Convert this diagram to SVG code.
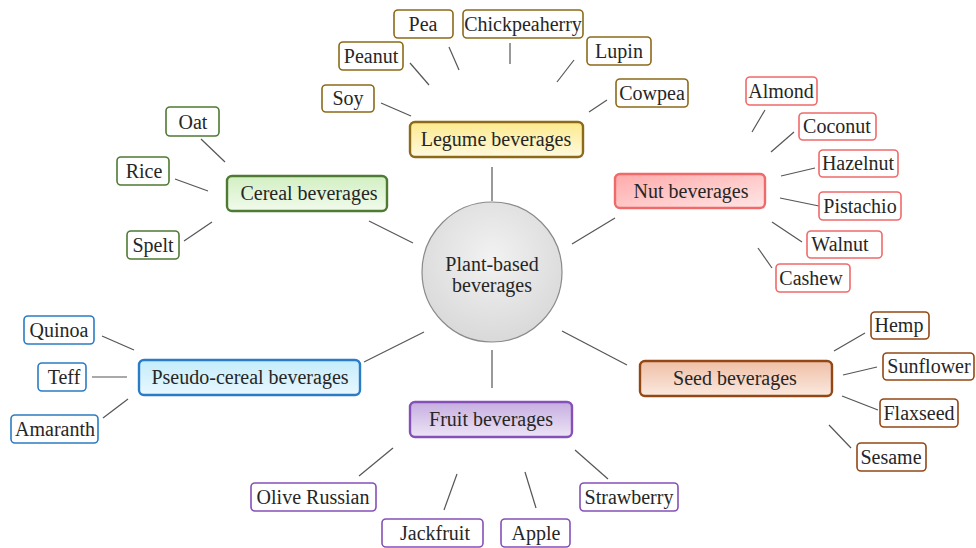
<svg xmlns="http://www.w3.org/2000/svg" width="976" height="548" viewBox="0 0 976 548" font-family="'Liberation Serif', Tinos, 'DejaVu Serif', serif">
<style>
text{font-family:"Liberation Serif",Tinos,"Times New Roman","DejaVu Serif",serif;font-size:20px;fill:#262626;text-anchor:middle}
.c{fill:#fff;stroke-width:1.6}
.cat{stroke-width:2.4}
.leg{stroke:#8c6a18}.nut{stroke:#f06a6a}.cer{stroke:#4f7a33}.pse{stroke:#2a7cc4}.see{stroke:#924815}.fru{stroke:#8550b8}
#connectors line{stroke:#555;stroke-width:1.2}
</style>
<defs>
<linearGradient id="gLeg" x1="0" y1="0" x2="0" y2="1"><stop offset="0" stop-color="#fde98c"/><stop offset="1" stop-color="#fffae0"/></linearGradient>
<linearGradient id="gNut" x1="0" y1="0" x2="1" y2="1"><stop offset="0" stop-color="#ffaaaa"/><stop offset="1" stop-color="#ffe6e6"/></linearGradient>
<linearGradient id="gCer" x1="0" y1="0" x2="0" y2="1"><stop offset="0" stop-color="#d2efc2"/><stop offset="1" stop-color="#f1fbec"/></linearGradient>
<linearGradient id="gPse" x1="0" y1="0" x2="0" y2="1"><stop offset="0" stop-color="#c4ecfb"/><stop offset="1" stop-color="#e9f8ff"/></linearGradient>
<linearGradient id="gSee" x1="0" y1="0" x2="0" y2="1"><stop offset="0" stop-color="#efbfa6"/><stop offset="1" stop-color="#fbe9e0"/></linearGradient>
<linearGradient id="gFru" x1="0" y1="0" x2="0" y2="1"><stop offset="0" stop-color="#c6ade0"/><stop offset="1" stop-color="#ede5f6"/></linearGradient>
<radialGradient id="gCen" cx="0.5" cy="0.4" r="0.6"><stop offset="0" stop-color="#f2f2f2"/><stop offset="1" stop-color="#d9d9d9"/></radialGradient>
</defs>
<g id="connectors">
<line x1="492" y1="167" x2="492" y2="201"/>
<line x1="572" y1="244" x2="615" y2="218"/>
<line x1="369" y1="221" x2="413" y2="243"/>
<line x1="364" y1="362" x2="424" y2="332"/>
<line x1="562" y1="331" x2="627" y2="365"/>
<line x1="492" y1="350" x2="492" y2="388"/>
<line x1="381" y1="103" x2="411" y2="116"/>
<line x1="410" y1="63" x2="429" y2="85"/>
<line x1="449" y1="47" x2="459" y2="70"/>
<line x1="510" y1="43" x2="510" y2="64"/>
<line x1="574" y1="60" x2="557" y2="82"/>
<line x1="607" y1="100" x2="589" y2="112"/>
<line x1="765" y1="110" x2="752" y2="132"/>
<line x1="794" y1="132" x2="771" y2="152"/>
<line x1="815" y1="168" x2="781" y2="176"/>
<line x1="819" y1="206" x2="780" y2="198"/>
<line x1="802" y1="242" x2="772" y2="222"/>
<line x1="772" y1="268" x2="758" y2="248"/>
<line x1="201" y1="139" x2="225" y2="162"/>
<line x1="175" y1="179" x2="208" y2="191"/>
<line x1="184" y1="241" x2="212" y2="222"/>
<line x1="102" y1="336" x2="134" y2="350"/>
<line x1="92" y1="377" x2="127" y2="377"/>
<line x1="103" y1="418" x2="128" y2="399"/>
<line x1="865" y1="333" x2="834" y2="351"/>
<line x1="877" y1="367" x2="843" y2="375"/>
<line x1="878" y1="410" x2="842" y2="396"/>
<line x1="851" y1="448" x2="829" y2="425"/>
<line x1="393" y1="448" x2="359" y2="476"/>
<line x1="457" y1="474" x2="444" y2="510"/>
<line x1="525" y1="472" x2="536" y2="508"/>
<line x1="575" y1="450" x2="608" y2="479"/>
</g>
<g id="center">
<circle cx="492" cy="272" r="70" fill="url(#gCen)" stroke="#8a8a8a" stroke-width="1.2"/>
<text x="492" y="271">Plant-based</text>
<text x="492" y="292">beverages</text>
</g>
<g id="legume"><rect class="cat leg" x="410" y="122" width="173" height="35" rx="5" fill="url(#gLeg)"/><text x="496" y="146">Legume beverages</text></g>
<g id="nut"><rect class="cat nut" x="615" y="174" width="150" height="34" rx="5" fill="url(#gNut)"/><text x="691" y="198">Nut beverages</text></g>
<g id="cereal"><rect class="cat cer" x="227" y="176" width="160" height="35" rx="5" fill="url(#gCer)"/><text x="309" y="200">Cereal beverages</text></g>
<g id="pseudo"><rect class="cat pse" x="139" y="360" width="221" height="35" rx="5" fill="url(#gPse)"/><text x="250" y="384">Pseudo-cereal beverages</text></g>
<g id="seed"><rect class="cat see" x="640" y="361" width="192" height="35" rx="5" fill="url(#gSee)"/><text x="735" y="385">Seed beverages</text></g>
<g id="fruit"><rect class="cat fru" x="410" y="402" width="162" height="35" rx="5" fill="url(#gFru)"/><text x="491" y="426">Fruit beverages</text></g>
<g id="soy"><rect class="c leg" x="322" y="85" width="52" height="27" rx="4"/><text x="348" y="105">Soy</text></g>
<g id="peanut"><rect class="c leg" x="339" y="42" width="64" height="28" rx="4"/><text x="371" y="63">Peanut</text></g>
<g id="pea"><rect class="c leg" x="394" y="10" width="59" height="28" rx="4"/><text x="423" y="31">Pea</text></g>
<g id="chickpeaherry"><rect class="c leg" x="463" y="10" width="120" height="28" rx="4"/><text x="523" y="31">Chickpeaherry</text></g>
<g id="lupin"><rect class="c leg" x="587" y="37" width="64" height="28" rx="4"/><text x="619" y="58">Lupin</text></g>
<g id="cowpea"><rect class="c leg" x="616" y="79" width="72" height="28" rx="4"/><text x="652" y="100">Cowpea</text></g>
<g id="almond"><rect class="c nut" x="746" y="77" width="71" height="28" rx="4"/><text x="781" y="98">Almond</text></g>
<g id="coconut"><rect class="c nut" x="799" y="113" width="77" height="27" rx="4"/><text x="837" y="133">Coconut</text></g>
<g id="hazelnut"><rect class="c nut" x="819" y="150" width="79" height="27" rx="4"/><text x="858" y="170">Hazelnut</text></g>
<g id="pistachio"><rect class="c nut" x="819" y="192" width="82" height="28" rx="4"/><text x="860" y="213">Pistachio</text></g>
<g id="walnut"><rect class="c nut" x="807" y="231" width="75" height="27" rx="4"/><text x="840" y="251">Walnut</text></g>
<g id="cashew"><rect class="c nut" x="776" y="264" width="74" height="28" rx="4"/><text x="811" y="285">Cashew</text></g>
<g id="oat"><rect class="c cer" x="166" y="107" width="53" height="29" rx="4"/><text x="193" y="129">Oat</text></g>
<g id="rice"><rect class="c cer" x="117" y="157" width="52" height="28" rx="4"/><text x="144" y="178">Rice</text></g>
<g id="spelt"><rect class="c cer" x="127" y="231" width="52" height="28" rx="4"/><text x="153" y="252">Spelt</text></g>
<g id="quinoa"><rect class="c pse" x="24" y="316" width="70" height="28" rx="4"/><text x="59" y="337">Quinoa</text></g>
<g id="teff"><rect class="c pse" x="38" y="363" width="48" height="28" rx="4"/><text x="64" y="384">Teff</text></g>
<g id="amaranth"><rect class="c pse" x="11" y="415" width="87" height="28" rx="4"/><text x="55" y="436">Amaranth</text></g>
<g id="hemp"><rect class="c see" x="871" y="312" width="58" height="27" rx="4"/><text x="899" y="332">Hemp</text></g>
<g id="sunflower"><rect class="c see" x="883" y="353" width="91" height="27" rx="4"/><text x="929" y="373">Sunflower</text></g>
<g id="flaxseed"><rect class="c see" x="880" y="399" width="78" height="28" rx="4"/><text x="919" y="420">Flaxseed</text></g>
<g id="sesame"><rect class="c see" x="857" y="443" width="69" height="28" rx="4"/><text x="891" y="464">Sesame</text></g>
<g id="olive"><rect class="c fru" x="251" y="483" width="125" height="28" rx="4"/><text x="313" y="504">Olive Russian</text></g>
<g id="jackfruit"><rect class="c fru" x="382" y="519" width="101" height="28" rx="4"/><text x="435" y="540">Jackfruit</text></g>
<g id="apple"><rect class="c fru" x="501" y="519" width="69" height="28" rx="4"/><text x="536" y="540">Apple</text></g>
<g id="strawberry"><rect class="c fru" x="580" y="483" width="98" height="28" rx="4"/><text x="629" y="504">Strawberry</text></g>
</svg>
